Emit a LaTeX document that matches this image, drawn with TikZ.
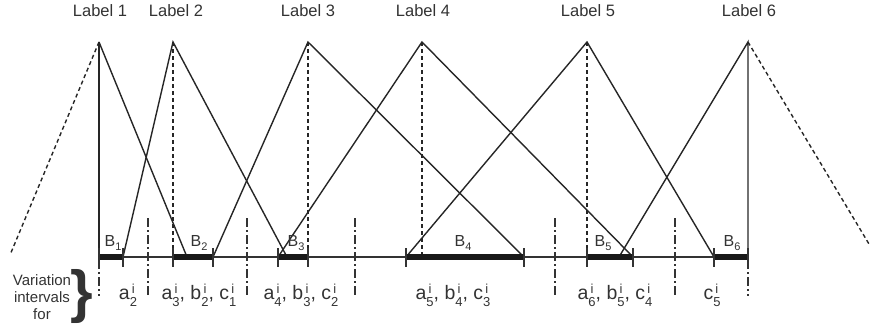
\documentclass[tikz,border=0pt]{standalone}
\usepackage{fontspec}
\setmainfont{Liberation Sans}
\usetikzlibrary{positioning}
\tikzset{
  legline/.style={line width=1.4pt, draw=black!85},
  legfade/.style={legline, dash pattern=on 4pt off 3pt},
  peakdrop/.style={line width=1.3pt, dash pattern=on 4pt off 3pt, draw=black!85},
  sepline/.style={line width=1.3pt, dash pattern=on 9pt off 3pt on 2pt off 3pt, draw=black!80},
  thickbar/.style={line width=6pt, draw=black!90},
  endtick/.style={line width=1.2pt, draw=black!80},
  axisline/.style={line width=1.2pt, draw=black!80},
}
% letter with stacked superscript i and subscript index
\newcommand{\ivar}[2]{#1\raisebox{-7pt}{\fontsize{13}{12}\selectfont\begin{tabular}[b]{@{}c@{}}i\\#2\end{tabular}}}
\newcommand{\bsub}[1]{B\raisebox{-4pt}{\fontsize{11}{11}\selectfont #1}}

\begin{document}
\begin{tikzpicture}[
  x=1pt, y=-1pt,
  every node/.style={text=black!80, inner sep=0pt},
  toplbl/.style={font=\fontsize{16.5}{18}\selectfont},
  barlbl/.style={font=\fontsize{16}{18}\selectfont, anchor=base},
  ivlbl/.style={font=\fontsize{19.5}{20}\selectfont, anchor=base},
  sidelbl/.style={font=\fontsize{15}{17}\selectfont, align=center},
]
  \useasboundingbox (0,0) rectangle (870,327);

  % peaks and labels
  \coordinate (p1) at (99,42);
  \coordinate (p2) at (173,42);
  \coordinate (p3) at (308,42);
  \coordinate (p4) at (422,42);
  \coordinate (p5) at (587,42);
  \coordinate (p6) at (748,42);
  \node[toplbl] (l1) at (100,11) {Label 1};
  \node[toplbl] (l2) at (176,11) {Label 2};
  \node[toplbl] (l3) at (308,11) {Label 3};
  \node[toplbl] (l4) at (423,11) {Label 4};
  \node[toplbl] (l5) at (588,11) {Label 5};
  \node[toplbl] (l6) at (749,11) {Label 6};

  % feet on the axis
  \coordinate (f0) at (10,255);
  \coordinate (f1) at (187,257);
  \coordinate (f2a) at (123,257);
  \coordinate (f2b) at (287,257);
  \coordinate (f3a) at (213,257);
  \coordinate (f3b) at (524,257);
  \coordinate (f4a) at (278,257);
  \coordinate (f4b) at (633,257);
  \coordinate (f5a) at (406,257);
  \coordinate (f5b) at (714,257);
  \coordinate (f6a) at (619,257);
  \coordinate (f7) at (869,244);

  % axis
  \coordinate (a0) at (99,257);
  \coordinate (a7) at (748,257);
  \draw[axisline] (a0) -- (a7);

  % triangles
  \draw[legfade] (p1) -- (f0);
  \draw[legline] (p1) -- (f1);
  \draw[legline] (p1) -- (a0);
  \draw[legline] (f2a) -- (p2) -- (f2b);
  \draw[legline] (f3a) -- (p3) -- (f3b);
  \draw[legline] (f4a) -- (p4) -- (f4b);
  \draw[legline] (f5a) -- (p5) -- (f5b);
  \draw[legline] (f6a) -- (p6) -- (a7);
  \draw[legfade] (p6) -- (f7);

  \foreach \x in {173,308,422,587}
    \draw[peakdrop] (\x,42) -- (\x,257);

  % thick intervals with end ticks
  \foreach \s/\e in {99/123,173/213,278/308,406/524,587/633,714/748} {
    \draw[thickbar] (\s,257) -- (\e,257);
    \draw[endtick] (\s,248) -- (\s,267);
    \draw[endtick] (\e,248) -- (\e,267);
  }

  % interval separators
  \foreach \x in {148,247,355,555,675}
    \draw[sepline] (\x,218) -- (\x,296);
  \draw[sepline] (99,260) -- (99,296);
  \draw[sepline] (748,260) -- (748,296);

  % interval names
  \node[barlbl] (B1) at (113,246) {\bsub{1}};
  \node[barlbl] (B2) at (199,246) {\bsub{2}};
  \node[barlbl] (B3) at (296,246) {\bsub{3}};
  \node[barlbl] (B4) at (463,246) {\bsub{4}};
  \node[barlbl] (B5) at (603,246) {\bsub{5}};
  \node[barlbl] (B6) at (732,246) {\bsub{6}};

  % variation intervals
  \node[ivlbl] (v1) at (128,299) {\ivar{a}{2}};
  \node[ivlbl] (v2) at (199,299) {\ivar{a}{3}, \ivar{b}{2}, \ivar{c}{1}};
  \node[ivlbl] (v3) at (301,299) {\ivar{a}{4}, \ivar{b}{3}, \ivar{c}{2}};
  \node[ivlbl] (v4) at (453,299) {\ivar{a}{5}, \ivar{b}{4}, \ivar{c}{3}};
  \node[ivlbl] (v5) at (615,299) {\ivar{a}{6}, \ivar{b}{5}, \ivar{c}{4}};
  \node[ivlbl] (v6) at (712,299) {\ivar{c}{5}};

  \node[sidelbl] (vartxt) at (42,297) {Variation\\intervals\\for};
  \node[font=\fontsize{58}{58}\selectfont\bfseries] (brace) at (82,296) {\}};
\end{tikzpicture}
\end{document}
